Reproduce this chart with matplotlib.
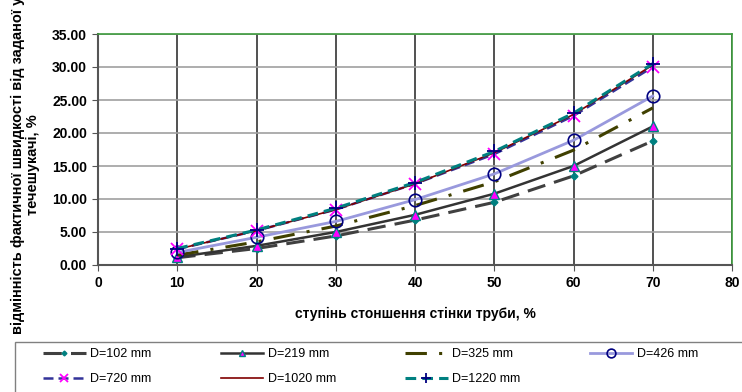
import matplotlib
matplotlib.use("Agg")
import matplotlib.pyplot as plt
from matplotlib.ticker import FormatStrFormatter
from matplotlib.patches import Rectangle

plt.rcParams['font.family'] = ['Liberation Sans', 'DejaVu Sans']

x = [10, 20, 30, 40, 50, 60, 70]
d102 = [1.1, 2.5, 4.4, 6.8, 9.5, 13.5, 18.8]
d219 = [1.2, 2.9, 5.0, 7.6, 10.8, 15.0, 21.0]
d325 = [1.5, 3.5, 5.9, 9.0, 12.6, 17.4, 23.8]
d426 = [1.9, 4.2, 6.6, 9.9, 13.8, 18.9, 25.6]
d720 = [2.4, 5.2, 8.4, 12.3, 16.8, 22.6, 30.0]
d1020 = [2.4, 5.2, 8.4, 12.3, 17.0, 22.8, 30.3]
d1220 = [2.5, 5.3, 8.6, 12.5, 17.2, 23.0, 30.5]
labels = ["D=102 mm", "D=219 mm", "D=325 mm", "D=426 mm",
          "D=720 mm", "D=1020 mm", "D=1220 mm"]
xticks = [0, 10, 20, 30, 40, 50, 60, 70, 80]
yticks = [0, 5, 10, 15, 20, 25, 30, 35]

fig = plt.figure(figsize=(7.42, 3.92), dpi=100)
ax = fig.add_axes([98/742, 1 - 265/392, (732-98)/742, (265-34)/392])

h = []
h += ax.plot(x, d102, color='#404040', lw=2.2, dashes=(6, 3), marker='D', ms=3.5,
             mfc='#008080', mec='#008080', label=labels[0])
h += ax.plot(x, d219, color='#333333', lw=1.8, marker='^', ms=7,
             mfc='#ff00ff', mec='#008080', label=labels[1])
h += ax.plot(x, d325, color='#404000', lw=2.2, dashes=(7, 4, 1, 4), label=labels[2])
h += ax.plot(x, d426, color='#9999dd', lw=2.0, marker='o', ms=9,
             mfc='none', mec='#000080', mew=1.2, label=labels[3])
h += ax.plot(x, d720, color='#333399', lw=1.8, dashes=(4, 2), marker='x', ms=8,
             mec='#ff00ff', mew=1.3, label=labels[4])
h += ax.plot(x, d1020, color='#800000', lw=1.2, label=labels[5])
h += ax.plot(x, d1220, color='#008080', lw=2.2, dashes=(3.5, 2), marker='+', ms=10,
             mec='#000080', mew=1.3, label=labels[6])

ax.set_xlim(0, 80)
ax.set_ylim(0, 35)
ax.set_xticks(xticks)
ax.set_yticks(yticks)
ax.yaxis.set_major_formatter(FormatStrFormatter('%.2f'))
ax.grid(axis='y', color='#a0a0a0', lw=1.2)
ax.grid(axis='x', color='#333333', lw=1.2)
ax.set_axisbelow(True)
for s in ['top', 'right']:
    ax.spines[s].set_color('#3c9a3c')
    ax.spines[s].set_linewidth(1.2)
for s in ['left', 'bottom']:
    ax.spines[s].set_color('#555555')
    ax.spines[s].set_linewidth(1.5)
ax.tick_params(length=4, color='#555555', labelsize=10, pad=4)
for t in ax.get_xticklabels() + ax.get_yticklabels():
    t.set_fontweight('bold')

ax.set_xlabel("ступінь стоншення стінки труби, %", fontsize=10, fontweight='bold', labelpad=12)
ax.set_ylabel("відмінність фактичної швидкості від заданої у\nтечешукачі, %",
              fontsize=10.5, fontweight='bold', linespacing=1.05)
ax.yaxis.set_label_coords((40 - 98) / 634, (265 - 165) / 231)

# legend: row-wise order like the reference
order = [0, 4, 1, 5, 2, 6, 3]
leg = fig.legend([h[i] for i in order], [labels[i] for i in order],
                 loc='upper left', bbox_to_anchor=(43/742, 1 - 348/392), ncol=4,
                 fontsize=9, frameon=False, borderpad=0, borderaxespad=0,
                 handlelength=3.4, columnspacing=5.5, labelspacing=1.07,
                 handletextpad=0.4, markerscale=0.7)
fig.add_artist(Rectangle((15/742, -0.05), 1.0, (1 - 342/392) + 0.05,
                         transform=fig.transFigure, fill=False,
                         edgecolor='#808080', lw=1.0))

fig.savefig("out.png", dpi=100)
